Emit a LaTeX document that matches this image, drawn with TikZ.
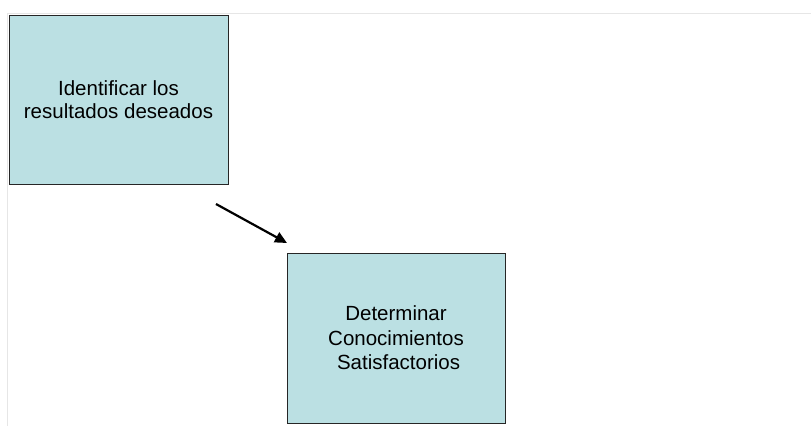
\documentclass[tikz,border=0pt]{standalone}
\usepackage{fontspec}
\setmainfont{Liberation Sans}
\usetikzlibrary{arrows.meta}
\definecolor{boxfill}{HTML}{BBE0E3}
\definecolor{frameline}{HTML}{E6E6E6}
\tikzset{
  stepbox/.style={draw=black!85, fill=boxfill, line width=0.9bp, align=center,
    font=\fontsize{20.5bp}{23.5bp}\selectfont, inner sep=0pt},
  flow/.style={draw=black, line width=2.2bp, -{Triangle[length=12bp,width=11bp]}}
}
\begin{document}
\begin{tikzpicture}[x=1bp,y=-1bp]
\useasboundingbox (0,0) rectangle (811,426);
\fill[white] (0,0) rectangle (811,426);
\draw[frameline, line width=1.5bp] (7.5,426) -- (7.5,13.5) -- (811,13.5);
\node[stepbox, minimum width=219bp, minimum height=169bp] (a) at (118.5,99.5)
  {Identificar los\\resultados deseados};
\node[stepbox, minimum width=218bp, minimum height=170bp,
  font=\fontsize{20.5bp}{24.5bp}\selectfont] (b) at (396,338)
  {Determinar\\Conocimientos\\\hspace*{0.25em}Satisfactorios};
\coordinate (s) at (216,204);
\coordinate (e) at (287,243);
\draw[flow] (s) -- (e);
\end{tikzpicture}
\end{document}
